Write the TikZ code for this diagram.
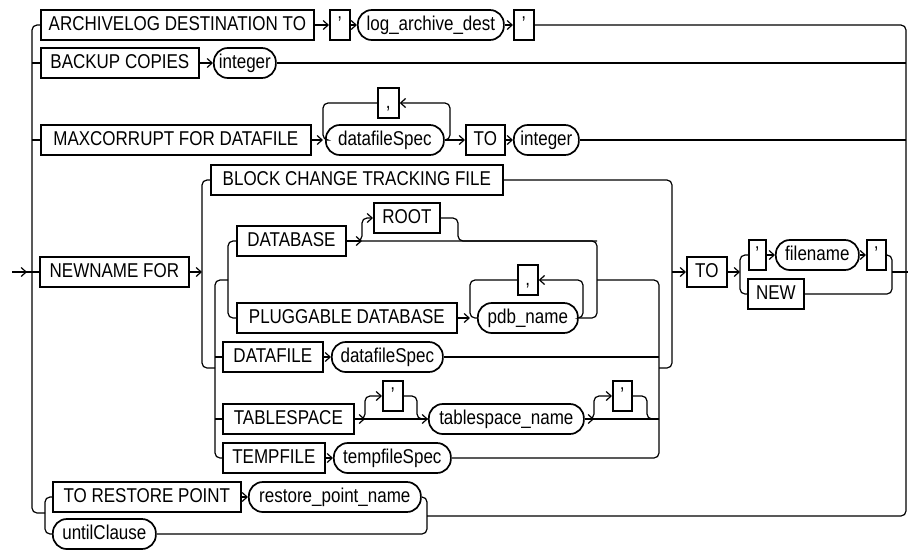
\documentclass[tikz,border=0pt]{standalone}
\usepackage{fontspec}
\setsansfont{Liberation Sans}[Ligatures=TeX,FakeStretch=0.85]
\usetikzlibrary{positioning,arrows.meta}
\tikzset{>={Straight Barb[length=5pt,width=9pt]},
ln/.style={line width=1.2pt,rounded corners=5pt},
kw/.style={draw,line width=1.7pt,anchor=west,minimum height=30pt,inner sep=0pt,
  text height=14pt,text depth=3.5pt,font=\sffamily\fontsize{20}{23}\selectfont},
ph/.style={kw,rounded corners=14pt},
}
\begin{document}
\begin{tikzpicture}[x=1pt,y=-1pt]
\useasboundingbox (0,0) rectangle (908,550);

\node[kw,minimum width=273pt] (arch) at (40,25) {ARCHIVELOG DESTINATION TO};
\node[kw,minimum width=20pt] (q1) at (329,25) {'};
\node[ph,minimum width=146pt] (logdest) at (357,25) {log\_archive\_dest};
\node[kw,minimum width=20pt] (q2) at (513,25) {'};

\node[kw,minimum width=158pt] (backup) at (40,63) {BACKUP COPIES};
\node[ph,minimum width=62pt] (int1) at (213,63) {integer};

\node[kw,minimum width=270pt] (maxc) at (40,140) {MAXCORRUPT FOR DATAFILE};
\node[kw,minimum width=21pt] (comma1) at (377,103) {,};
\node[ph,minimum width=118pt] (dfs1) at (325,140) {datafileSpec};
\node[kw,minimum width=39pt] (to1) at (465,140) {TO};
\node[ph,minimum width=65pt] (int2) at (513,140) {integer};

\node[kw,minimum width=149pt] (newname) at (39,272) {NEWNAME FOR};
\node[kw,minimum width=292pt] (block) at (210,180) {BLOCK CHANGE TRACKING FILE};
\node[kw,minimum width=109pt] (database) at (236,241) {DATABASE};
\node[kw,minimum width=66pt] (root) at (373,218) {ROOT};
\node[kw,minimum width=220pt] (plug) at (236,318) {PLUGGABLE DATABASE};
\node[kw,minimum width=20pt] (comma2) at (517,280) {,};
\node[ph,minimum width=100pt] (pdb) at (477,318) {pdb\_name};
\node[kw,minimum width=100pt] (datafile) at (222,357) {DATAFILE};
\node[ph,minimum width=111pt] (dfs2) at (331,357) {datafileSpec};
\node[kw,minimum width=131pt] (tbs) at (222,419) {TABLESPACE};
\node[kw,minimum width=20pt] (q3) at (382,396) {'};
\node[ph,minimum width=155pt] (tbsname) at (428,419) {tablespace\_name};
\node[kw,minimum width=19pt] (q4) at (612,396) {'};
\node[kw,minimum width=102pt] (temp) at (222,458) {TEMPFILE};
\node[ph,minimum width=117pt] (tfs) at (333,458) {tempfileSpec};
\node[kw,minimum width=40pt] (to2) at (686,272) {TO};
\node[kw,minimum width=17pt] (q5) at (748,255) {'};
\node[ph,minimum width=83pt] (fname) at (775,255) {filename};
\node[kw,minimum width=19pt] (q6) at (866,255) {'};
\node[kw,minimum width=56pt] (new) at (747,294) {NEW};

\node[kw,minimum width=188pt] (rp) at (52,497) {TO RESTORE POINT};
\node[ph,minimum width=172pt] (rpn) at (248,497) {restore\_point\_name};
\node[ph,minimum width=103pt] (until) at (52,534) {untilClause};

\coordinate (in) at (12,272);
\coordinate (lb) at (32,513);
\coordinate (rj) at (45,513);
\coordinate (rb) at (906,516);
\coordinate (rm) at (427,516);
\coordinate (l1l) at (323,103);
\coordinate (l1r) at (450,103);
\coordinate (l2l) at (470,280);
\coordinate (l2r) at (583,280);
\coordinate (ol) at (202,368);
\coordinate (or) at (672,368);
\coordinate (il) at (215,458);
\coordinate (ir) at (659,458);
\coordinate (gl) at (228,280);
\coordinate (gr) at (597,280);
\coordinate (r1) at (362,230);
\coordinate (r2) at (458,230);
\coordinate (t1) at (365,407);
\coordinate (t2) at (417,407);
\coordinate (t3) at (594,407);
\coordinate (t4) at (647,407);
\coordinate (cl) at (740,272);
\coordinate (cr) at (892,272);
\coordinate (out) at (908,272);

\draw[ln] (in) -- (newname.west);
\draw[ln,->] (in) -- ++(15,0);
\draw[ln] (arch.west) -| (lb) -- (rj);
\draw[ln] (q2.east) -| (rb) -- (rm);
\draw[ln] (backup.west -| lb) -- (backup.west);
\draw[ln] (maxc.west -| lb) -- (maxc.west);

\draw[ln,->] (arch.east) -- (q1.west);
\draw[ln,->] (q1.east) -- (logdest.west);
\draw[ln,->] (logdest.east) -- (q2.west);

\draw[ln,->] (backup.east) -- (int1.west);
\draw[ln] (int1.east) -- (int1.east -| rb);

\draw[ln,->] (maxc.east) -- (maxc.east -| l1l);
\draw[ln] (comma1.west) -- (l1l) |- (dfs1.west);
\draw[ln,->] (dfs1.east) -| (l1r) -- (comma1.east);
\draw[ln,->] (dfs1.east) -- (to1.west);
\draw[ln,->] (to1.east) -- (int2.west);
\draw[ln] (int2.east) -- (int2.east -| rb);

\draw[ln,->] (newname.east) -- (newname.east -| ol);
\draw[ln] (block.west) -| (ol) -- (ol -| il);
\draw[ln] (gl) -| (il) -- (temp.west);
\draw[ln] (datafile.west -| il) -- (datafile.west);
\draw[ln] (tbs.west -| il) -- (tbs.west);
\draw[ln] (database.west) -| (gl) |- (plug.west);

\draw[ln,->] (database.east) -- (database.east -| r1);
\draw[ln,->] (database.east) -| (r1) |- (root.west);
\draw[ln] (root.east) -| (r2) |- (gr |- database.east);
\draw[ln] (database.east) -| (gr) |- (pdb.east);

\draw[ln,->] (plug.east) -- (plug.east -| l2l);
\draw[ln] (comma2.west) -- (l2l) |- (pdb.west);
\draw[ln,->] (pdb.east) -| (l2r) -- (comma2.east);

\draw[ln,->] (datafile.east) -- (dfs2.west);
\draw[ln] (dfs2.east) -- (dfs2.east -| ir);

\draw[ln,->] (tbs.east) -- (tbsname.west);
\draw[ln,->] (tbs.east) -- (tbs.east -| t1);
\draw[ln,->] (tbs.east) -| (t1) |- (q3.west);
\draw[ln] (q3.east) -| (t2) |- (tbsname.west);
\draw[ln] (tbsname.east) -- (tbsname.east -| ir);
\draw[ln,->] (tbsname.east) -- (tbsname.east -| t3);
\draw[ln,->] (tbsname.east) -| (t3) |- (q4.west);
\draw[ln] (q4.east) -| (t4) |- (tbsname.east -| ir);

\draw[ln,->] (temp.east) -- (tfs.west);
\draw[ln] (gr) -| (ir) -- (tfs.east);
\draw[ln] (block.east) -| (or) -- (or -| ir);

\draw[ln,->] (to2.west -| or) -- (to2.west);
\draw[ln,->] (to2.east) -- (cl);
\draw[ln] (q5.west) -| (cl) |- (new.west);
\draw[ln,->] (q5.east) -- (fname.west);
\draw[ln,->] (fname.east) -- (q6.west);
\draw[ln] (q6.east) -| (cr) |- (new.east);
\draw[ln] (cr) -- (out);

\draw[ln] (rp.west) -| (rj) |- (until.west);
\draw[ln,->] (rp.east) -- (rpn.west);
\draw[ln] (rpn.east) -| (rm) |- (until.east);
\end{tikzpicture}
\end{document}
